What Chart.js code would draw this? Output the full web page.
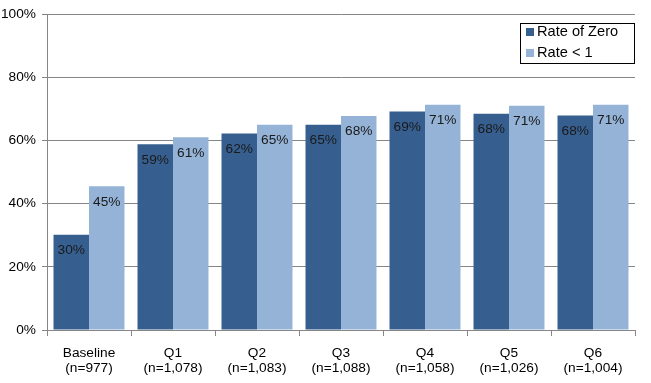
<!DOCTYPE html>
<html><head><meta charset="utf-8">
<script src="https://cdn.jsdelivr.net/npm/chart.js@4/dist/chart.umd.min.js"></script>
<style>html,body{margin:0;padding:0;background:#fff}#wrap{width:651px;height:383px}</style>
</head><body><div id="wrap"><canvas id="c" width="651" height="383"></canvas></div>
<script>
const categories = [["Baseline","(n=977)"],["Q1","(n=1,078)"],["Q2","(n=1,083)"],["Q3","(n=1,088)"],["Q4","(n=1,058)"],["Q5","(n=1,026)"],["Q6","(n=1,004)"]];
const rateZero = [30.2, 58.8, 62.2, 65.0, 69.2, 68.5, 67.9];
const rateLessOne = [45.5, 61.0, 65.0, 67.8, 71.3, 71.0, 71.3];
const zeroLabels = ["30%","59%","62%","65%","69%","68%","68%"];
const lessOneLabels = ["45%","61%","65%","68%","71%","71%","71%"];
const yTicks = [0,20,40,60,80,100];
const seriesNames = ["Rate of Zero","Rate < 1"];

const FONT = "'Liberation Sans', Arial, sans-serif";
const labelPlugin = {
  id:'lbl',
  afterDatasetsDraw(chart){
    const ctx = chart.ctx;
    const sets = [zeroLabels, lessOneLabels];
    ctx.save();
    ctx.font = "13.7px " + FONT;
    ctx.fillStyle = "#1a1a1a";
    ctx.textAlign = "center";
    ctx.textBaseline = "middle";
    chart.data.datasets.forEach((ds, i) => {
      chart.getDatasetMeta(i).data.forEach((bar, j) => {
        ctx.fillText(sets[i][j], bar.x, bar.y + 15.5);
      });
    });
    ctx.restore();
  },
  afterDraw(chart){
    const ctx = chart.ctx;
    ctx.save();
    const x0 = 520, y0 = 23, w = 114, h = 40;
    ctx.fillStyle = "#fff";
    ctx.fillRect(x0, y0, w, h);
    ctx.strokeStyle = "#000";
    ctx.lineWidth = 1;
    ctx.strokeRect(x0 + 0.5, y0 + 0.5, w, h);
    ctx.font = "14.6px " + FONT;
    ctx.textBaseline = "middle";
    ctx.textAlign = "left";
    const rows = [32, 53];
    chart.data.datasets.forEach((ds, i) => {
      ctx.fillStyle = ds.backgroundColor;
      ctx.fillRect(526, rows[i] - 4, 8, 8);
      ctx.fillStyle = "#000";
      ctx.fillText(ds.label, 537, rows[i]);
    });
    ctx.restore();
  }
};

new Chart(document.getElementById('c'), {
  type: 'bar',
  data: {
    labels: categories,
    datasets: [
      {label: seriesNames[0], data: rateZero, backgroundColor: "#365F8F"},
      {label: seriesNames[1], data: rateLessOne, backgroundColor: "#95B3D7"}
    ]
  },
  options: {
    responsive: false,
    animation: false,
    devicePixelRatio: 1,
    layout: {padding: {top: 12, right: 16, left: 0, bottom: 0}},
    datasets: {bar: {barPercentage: 1, categoryPercentage: 0.845}},
    plugins: {legend: {display: false}, tooltip: {enabled: false}},
    scales: {
      x: {
        grid: {display: true, drawOnChartArea: false, drawTicks: true, tickLength: 6, color: "#868686", offset: true},
        border: {color: "#868686"},
        ticks: {color: "#000", font: {family: FONT, size: 13.7, lineHeight: 1.15}, padding: 9, maxRotation: 0},
        afterFit(s){ s.height = 53; }
      },
      y: {
        min: 0, max: 100,
        afterBuildTicks(s){ s.ticks = yTicks.map(v => ({value: v})); },
        grid: {color: "#868686", tickLength: 5},
        border: {color: "#868686"},
        ticks: {color: "#000", font: {family: FONT, size: 13.7}, padding: 6, callback: v => v + "%"},
        afterFit(s){ s.width = 47; }
      }
    }
  },
  plugins: [labelPlugin]
});
</script></body></html>
